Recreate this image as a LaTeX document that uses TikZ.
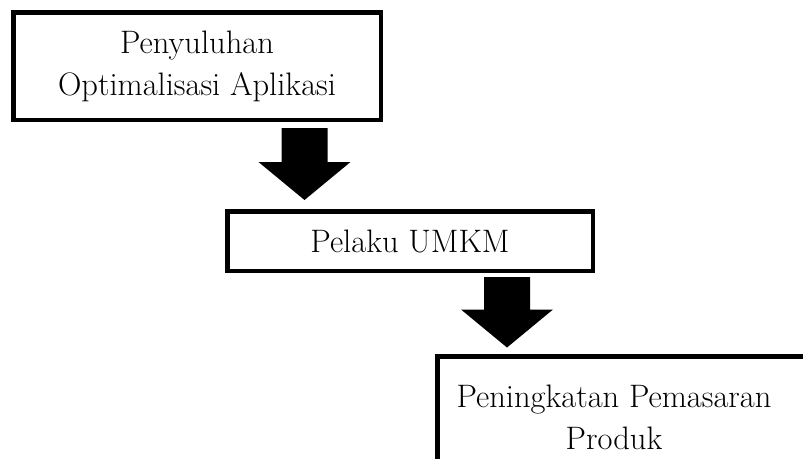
\documentclass[tikz,border=0pt]{standalone}
\usetikzlibrary{calc}

\tikzset{
  kotak/.style={draw, line width=4.5pt, align=center, inner sep=0pt,
    font=\fontsize{32.5}{42}\selectfont},
  teks/.style={align=center, inner sep=0pt, font=\fontsize{32.5}{42}\selectfont},
}
% panah blok: #1 = pangkal, #2 = ujung
\newcommand{\panah}[2]{%
  \fill ($(#1 -| #2)+(-23,0)$) -- ($(#1 -| #2)+(23,0)$)
    -- ($(#2)+(23,-38)$) -- ($(#2)+(46,-38)$) -- (#2)
    -- ($(#2)+(-46,-38)$) -- ($(#2)+(-23,-38)$) -- cycle;}

\begin{document}
\begin{tikzpicture}[x=1pt, y=-1pt]
    \useasboundingbox (0,0) rectangle (803,458);
    \clip (0,0) rectangle (803,458);

    \node[kotak, minimum width=367.5pt, minimum height=107.5pt] (penyuluhan)
      at (197,66) {Penyuluhan\\Optimalisasi Aplikasi};
    \node[kotak, minimum width=365.5pt, minimum height=59.5pt] (pelaku)
      at (410,241) {Pelaku UMKM};
    % kotak ketiga terpotong di tepi kanan dan bawah
    \draw[line width=4.5pt] (437.25,356.25) rectangle (860,490);
    \node[teks] (peningkatan) at (614,417) {Peningkatan Pemasaran\\Produk};

    %%%%
    \coordinate (p1) at (304.5,128);
    \coordinate (u1) at (304.5,200);
    \coordinate (p2) at (507,277);
    \coordinate (u2) at (507,347.5);
    \panah{p1}{u1}
    \panah{p2}{u2}
\end{tikzpicture}
\end{document}
